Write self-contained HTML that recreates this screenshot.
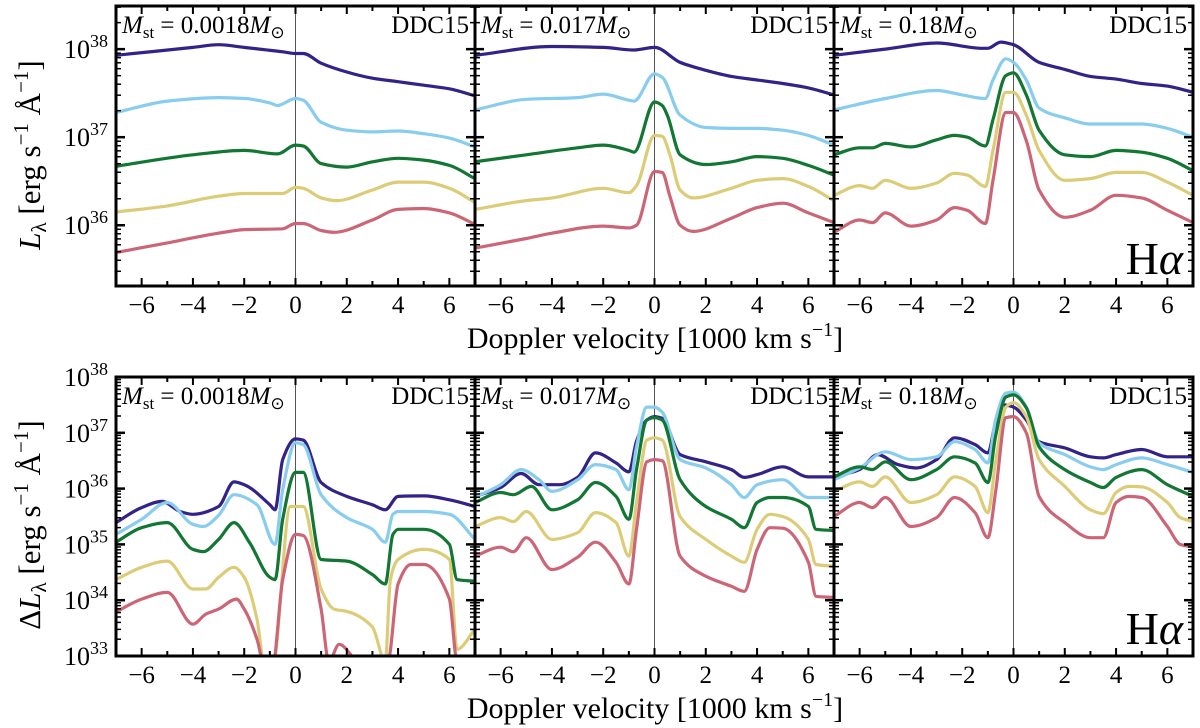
<!DOCTYPE html>
<html><head><meta charset="utf-8"><style>
html,body{margin:0;padding:0;background:#fff;}
svg{display:block;font-family:"Liberation Serif",serif;}
</style></head><body>
<svg id="chart" width="1200" height="728" viewBox="0 0 1200 728"></svg>
<script>
// ---------- data (x in 1000 km/s, y = log10 luminosity) ----------
const xTicks = [-6,-4,-2,0,2,4,6];
const topYTicks = [36,37,38];
const botYTicks = [33,34,35,36,37,38];
const panelMasses = ["0.0018","0.017","0.18"];
const seriesColors = ["#332288","#88ccee","#117733","#ddcc77","#cc6677"];

// top row panel 1
const t1_dark  = [[-7,37.93],[-4,38.02],[-3,38.05],[-2,38.02],[-0.5,37.97],[0,37.95],[0.3,37.95],[1,37.84],[2,37.74],[3,37.67],[4,37.63],[5,37.59],[6,37.55],[7,37.47]];
const t1_light = [[-7,37.28],[-5,37.41],[-3,37.45],[-2,37.44],[-1,37.39],[-0.7,37.36],[0,37.44],[0.3,37.42],[1,37.17],[2,37.08],[3,37.06],[4,37.07],[5,37.04],[6,36.99],[7,36.89]];
const t1_green = [[-7,36.67],[-4,36.80],[-2,36.85],[-0.7,36.81],[0,36.91],[0.3,36.90],[1,36.70],[2,36.66],[3,36.72],[4,36.76],[5,36.74],[6,36.68],[7,36.53]];
const t1_yell  = [[-7,36.15],[-5,36.22],[-3,36.33],[-2,36.36],[-0.5,36.36],[0,36.43],[0.3,36.42],[1,36.31],[1.6,36.28],[3,36.40],[4,36.49],[5,36.49],[6,36.42],[7,36.26]];
const t1_red   = [[-7,35.69],[-5,35.80],[-3,35.91],[-2,35.95],[-0.5,35.96],[0,36.02],[0.3,36.02],[1,35.94],[1.5,35.92],[3,36.06],[4,36.18],[5,36.19],[6,36.14],[7,36.01]];
// top row panel 2
const t2_dark  = [[-7,37.93],[-4,38.03],[-2,38.02],[-0.8,37.99],[-0.5,38.0],[0,38.02],[1,37.85],[2,37.76],[3,37.69],[4,37.65],[5,37.61],[6,37.56],[7,37.48]];
const t2_light = [[-7,37.31],[-5,37.43],[-3,37.45],[-2,37.49],[-1,37.42],[-0.8,37.41],[0,37.72],[0.3,37.68],[1,37.25],[2,37.11],[3,37.10],[4,37.10],[5,37.08],[6,37.02],[7,36.91]];
const t2_green = [[-7,36.72],[-5,36.80],[-3,36.88],[-2,36.91],[-1,36.85],[-0.8,36.83],[0,37.40],[0.3,37.36],[0.5,37.25],[1,36.80],[2,36.69],[3,36.72],[4,36.78],[5,36.76],[6,36.68],[7,36.57]];
const t2_yell  = [[-7,36.18],[-5,36.28],[-4,36.31],[-2,36.42],[-1,36.37],[-0.7,36.45],[0,37.02],[0.3,37.01],[0.6,36.80],[1,36.40],[1.5,36.31],[3,36.42],[4,36.51],[5,36.53],[6,36.44],[7,36.28]];
const t2_red   = [[-7,35.74],[-5,35.85],[-4,35.91],[-2,35.99],[-1,35.97],[-0.7,36.0],[0,36.61],[0.3,36.60],[0.6,36.33],[1,36.0],[1.5,35.93],[3,36.08],[4,36.20],[5,36.25],[6,36.14],[7,36.03]];
// top row panel 3
const t3_dark  = [[-7,37.93],[-5,38.0],[-3,38.07],[-1.2,38.01],[-1,38.01],[-0.5,38.08],[0,38.05],[1,37.85],[2,37.77],[3,37.69],[4,37.66],[5,37.61],[6,37.58],[7,37.51]];
const t3_light = [[-7,37.31],[-5,37.44],[-3,37.53],[-2,37.48],[-1.1,37.44],[-0.8,37.65],[-0.3,37.89],[0,37.85],[0.5,37.65],[1,37.33],[2,37.22],[3,37.15],[4,37.15],[5,37.15],[6,37.10],[7,37.0]];
const t3_green = [[-7,36.80],[-6,36.88],[-5.5,36.88],[-5,36.93],[-4,36.89],[-3,36.97],[-2.3,37.02],[-1.8,37.0],[-1.1,36.90],[-0.8,37.2],[-0.3,37.70],[0,37.73],[0.5,37.48],[1,37.08],[2,36.80],[3,36.78],[4,36.85],[5,36.83],[6,36.76],[7,36.62]];
const t3_yell  = [[-7,36.34],[-6,36.45],[-5.5,36.42],[-5,36.51],[-4,36.42],[-3,36.48],[-2.3,36.59],[-1.8,36.57],[-1.1,36.44],[-0.8,36.85],[-0.3,37.51],[0,37.51],[0.5,37.25],[1,36.85],[2,36.51],[3,36.53],[4,36.60],[5,36.60],[6,36.49],[7,36.34]];
const t3_red   = [[-7,35.92],[-6,36.06],[-5.5,36.03],[-5,36.14],[-4,35.99],[-3,36.06],[-2.3,36.20],[-1.8,36.17],[-1.1,36.02],[-0.8,36.51],[-0.3,37.28],[0,37.28],[0.5,36.96],[1,36.40],[2,36.09],[3,36.17],[4,36.34],[5,36.31],[6,36.17],[7,36.03]];

// bottom row panel 1
const b1_dark  = [[-7,35.39],[-6,35.66],[-5.2,35.77],[-4.5,35.59],[-4,35.54],[-3,35.68],[-2.4,36.12],[-2,36.07],[-1,35.71],[-0.8,35.62],[-0.5,36.52],[0,36.89],[0.3,36.87],[1,36.11],[2,35.86],[3,35.71],[3.5,35.62],[4,35.86],[5,35.87],[6,35.80],[7,35.68]];
const b1_light = [[-7,35.18],[-6,35.45],[-5,35.75],[-4,35.36],[-3.6,35.32],[-3,35.52],[-2.4,35.89],[-1.5,35.71],[-0.8,35.0],[-0.5,35.98],[0,36.82],[0.3,36.79],[1,35.89],[2,35.48],[3,35.27],[3.5,35.04],[3.8,35.54],[4,35.59],[5,35.59],[6,35.54],[7,35.09]];
const b1_green = [[-7,35.04],[-6,35.30],[-5,35.39],[-4,34.91],[-3.6,34.87],[-3,35.09],[-2.4,35.39],[-1.8,35.04],[-1,34.41],[-0.8,34.37],[-0.5,35.45],[0,36.29],[0.3,36.29],[1,34.73],[2,34.70],[3,34.46],[3.5,34.29],[3.8,35.18],[4,35.27],[5,35.27],[6,35.0],[6.3,34.37],[7,34.34]];
const b1_yell  = [[-7,34.37],[-6,34.59],[-5,34.70],[-4,34.20],[-3.5,34.20],[-3,34.41],[-2.4,34.59],[-2,34.41],[-1.5,33.66],[-1.2,32.8],[-0.9,32.8],[-0.2,35.68],[0.3,35.68],[1,34.20],[1.5,33.84],[2,33.80],[3,33.52],[3.5,32.9],[3.7,34.37],[4,34.73],[5,34.91],[6,34.73],[6.3,33.12],[7,33.48]];
const b1_red   = [[-7,33.79],[-6,34.02],[-5,34.14],[-4,33.57],[-3.5,33.75],[-3,33.84],[-2.3,34.02],[-2,33.84],[-1.5,33.30],[-1.2,32.8],[-0.9,32.8],[-0.5,34.37],[0,35.18],[0.3,35.16],[1,33.84],[1.3,32.9],[1.7,33.21],[2.5,32.9],[3.6,32.9],[4,34.29],[4.5,34.64],[5,34.64],[6,34.02],[6.3,32.9],[7,32.8]];
// bottom row panel 2
const b2_dark  = [[-7,35.86],[-6,36.02],[-5.2,36.27],[-4.5,36.07],[-3.7,36.07],[-3,36.20],[-2.3,36.64],[-1.5,36.46],[-1,36.30],[-0.7,36.85],[-0.3,37.23],[0,37.29],[0.3,37.26],[1,36.61],[2,36.48],[3,36.34],[3.5,36.20],[4,36.25],[5,36.39],[6,36.21],[7,36.21]];
const b2_light = [[-7,35.84],[-6,36.07],[-5.2,36.34],[-4.5,36.16],[-4,35.95],[-3,36.16],[-2.3,36.43],[-1.5,36.34],[-1,35.98],[-0.7,36.75],[-0.3,37.46],[0,37.46],[0.3,37.37],[1,36.52],[2,36.37],[3,36.07],[3.5,35.84],[4,36.07],[5,36.16],[6,35.84],[7,35.84]];
const b2_green = [[-7,35.75],[-6,35.93],[-5.5,35.89],[-4.8,36.04],[-4,35.62],[-3,35.80],[-2.3,36.11],[-1.5,35.86],[-1,35.45],[-0.7,36.34],[-0.3,37.23],[0,37.27],[0.3,37.23],[1,36.16],[2,35.68],[3,35.45],[3.5,35.30],[4,35.75],[4.5,35.84],[5,35.84],[6,35.68],[6.3,35.27],[7,35.25]];
const b2_yell  = [[-7,35.32],[-6,35.48],[-5.5,35.41],[-5,35.59],[-4,35.09],[-3,35.21],[-2.3,35.57],[-1.5,35.39],[-1,34.79],[-0.7,35.75],[-0.3,36.87],[0,36.91],[0.3,36.87],[1,35.5],[2,35.09],[3,34.79],[3.5,34.68],[4,35.27],[4.5,35.54],[5,35.5],[6,35.09],[6.3,34.64],[7,34.61]];
const b2_red   = [[-7,34.79],[-6,34.95],[-5.5,34.87],[-5,35.12],[-4,34.55],[-3,34.77],[-2.3,35.04],[-1.5,34.68],[-1,34.29],[-0.7,35.27],[-0.3,36.48],[0,36.52],[0.3,36.50],[1,34.79],[2,34.43],[3,34.25],[3.5,34.16],[4,34.91],[4.5,35.30],[5,35.29],[6,34.68],[6.3,34.07],[7,34.05]];
// bottom row panel 3
const b3_dark  = [[-7,36.21],[-6,36.34],[-5.3,36.61],[-4.5,36.43],[-3.8,36.37],[-3,36.52],[-2.3,36.91],[-1.5,36.79],[-1,36.64],[-0.7,37.18],[-0.4,37.5],[0,37.46],[0.5,37.23],[1,36.84],[2,36.73],[3,36.57],[3.5,36.55],[4,36.61],[5,36.70],[6,36.57],[7,36.57]];
const b3_light = [[-7,36.16],[-6,36.37],[-5,36.66],[-4,36.52],[-3,36.57],[-2.3,36.84],[-1.5,36.70],[-1,36.46],[-0.7,37.23],[-0.3,37.71],[0,37.73],[0.5,37.46],[1,36.82],[2,36.61],[3,36.39],[3.5,36.34],[4,36.43],[5,36.55],[6,36.43],[7,36.29]];
const b3_green = [[-7,36.21],[-6,36.39],[-5.5,36.34],[-5,36.48],[-4,36.16],[-3,36.34],[-2.3,36.57],[-1.5,36.46],[-1,36.11],[-0.7,36.93],[-0.3,37.64],[0,37.68],[0.5,37.45],[1,36.75],[2,36.34],[3,36.11],[3.5,36.02],[4,36.20],[5,36.34],[6,36.07],[7,35.86]];
const b3_yell  = [[-7,35.95],[-6,36.12],[-5.5,36.04],[-5,36.21],[-4,35.75],[-3,35.89],[-2.3,36.21],[-1.5,36.04],[-1,35.57],[-0.7,36.46],[-0.3,37.46],[0,37.54],[0.5,37.29],[1,36.52],[2,36.04],[3,35.62],[3.5,35.55],[4,35.93],[4.5,36.04],[5,36.03],[6,35.75],[6.5,35.48],[7,35.41]];
const b3_red   = [[-7,35.5],[-6,35.75],[-5.5,35.66],[-5,35.84],[-4,35.32],[-3,35.48],[-2.3,35.84],[-1.5,35.57],[-1,35.12],[-0.7,35.93],[-0.3,37.27],[0,37.29],[0.5,37.0],[1,35.86],[2,35.39],[3,35.12],[3.5,35.12],[4,35.75],[4.5,35.86],[5,35.84],[6,35.32],[6.5,35.0],[7,34.95]];

const topSeries = [[t1_dark,t1_light,t1_green,t1_yell,t1_red],[t2_dark,t2_light,t2_green,t2_yell,t2_red],[t3_dark,t3_light,t3_green,t3_yell,t3_red]];
const botSeries = [[b1_dark,b1_light,b1_green,b1_yell,b1_red],[b2_dark,b2_light,b2_green,b2_yell,b2_red],[b3_dark,b3_light,b3_green,b3_yell,b3_red]];
const seriesNames = ["dark-blue","light-blue","green","yellow","red"];

// ---------- drawing ----------
const NS = "http://www.w3.org/2000/svg";
const svg = document.getElementById("chart");
function mk(tag, attrs, parent){ const e=document.createElementNS(NS,tag); for(const k in attrs) e.setAttribute(k,attrs[k]); (parent||svg).appendChild(e); return e; }
function monotonePath(P){
  const n = P.length;
  const dx=[], m=[];
  for (let i=0;i<n-1;i++){ dx[i]=P[i+1][0]-P[i][0]; m[i]=(P[i+1][1]-P[i][1])/dx[i]; }
  const t=[];
  t[0]=m[0]; t[n-1]=m[n-2];
  for (let i=1;i<n-1;i++){
    if (m[i-1]*m[i]<=0) t[i]=0;
    else { const w1=2*dx[i]+dx[i-1], w2=dx[i]+2*dx[i-1]; t[i]=(w1+w2)/(w1/m[i-1]+w2/m[i]); }
  }
  let d=`M${P[0][0].toFixed(1)},${P[0][1].toFixed(1)}`;
  for (let i=0;i<n-1;i++){
    const h=dx[i]/3;
    d+=` C${(P[i][0]+h).toFixed(1)},${(P[i][1]+t[i]*h).toFixed(1)} ${(P[i+1][0]-h).toFixed(1)},${(P[i+1][1]-t[i+1]*h).toFixed(1)} ${P[i+1][0].toFixed(1)},${P[i+1][1].toFixed(1)}`;
  }
  return d;
}

const panelX = [116,475,834];
const panelW = 359;
const rows = [
  {top:6, bottom:286, ymin:35.31, ymax:38.49, ticks:topYTicks, series:topSeries, name:"top", labelY:313, xlabY:348},
  {top:377, bottom:656, ymin:33, ymax:38, ticks:botYTicks, series:botSeries, name:"bottom", labelY:683, xlabY:718}
];
const defs = mk("defs",{});

rows.forEach((row, ri) => {
  const yScale = v => row.bottom - (v-row.ymin)/(row.ymax-row.ymin)*(row.bottom-row.top);
  for (let p=0;p<3;p++){
    const x0 = panelX[p];
    const xScale = v => x0 + (v+7)/14*panelW;
    const g = mk("g",{});
    
    
    const cid = `clip-${ri}-${p}`;
    const cp = mk("clipPath",{id:cid},defs);
    mk("rect",{x:x0,y:row.top,width:panelW,height:row.bottom-row.top},cp);
    const zl = mk("line",{x1:xScale(0),x2:xScale(0),y1:row.top,y2:row.bottom,stroke:"#555","stroke-width":1},g);
    
    
    const sg = mk("g",{"clip-path":`url(#${cid})`},g);
    row.series[p].forEach((s,si) => {
      const P = s.map(d => [xScale(d[0]), yScale(d[1])]);
      const pl = mk("path",{d:monotonePath(P),fill:"none",stroke:seriesColors[si],"stroke-width":3.2,"stroke-linejoin":"round","stroke-linecap":"round"},sg);
      
      
    });
    for (let v=-7; v<=7; v++){
      const major = v%2===0;
      const len = major?8:5;
      const X = xScale(v);
      mk("line",{x1:X,x2:X,y1:row.bottom,y2:row.bottom-len,stroke:"#000","stroke-width":2},g);
      mk("line",{x1:X,x2:X,y1:row.top,y2:row.top+len,stroke:"#000","stroke-width":2},g);
    }
    xTicks.forEach(v => {
      const t = mk("text",{x:xScale(v),y:row.labelY,"text-anchor":"middle","font-size":25},g);
      t.textContent = v<0 ? "\u2212"+Math.abs(v) : String(v);
      
      
    });
    for (let d=Math.floor(row.ymin); d<=Math.ceil(row.ymax); d++){
      for (let m=1; m<10; m++){
        const v = d + Math.log10(m);
        if (v<row.ymin-1e-6 || v>row.ymax+1e-6) continue;
        const Y = yScale(v);
        const len = m===1?9:5;
        mk("line",{x1:x0,x2:x0+len,y1:Y,y2:Y,stroke:"#000","stroke-width":m===1?2.5:1.5},g);
        mk("line",{x1:x0+panelW,x2:x0+panelW-len,y1:Y,y2:Y,stroke:"#000","stroke-width":m===1?2.5:1.5},g);
      }
    }
    mk("rect",{x:x0,y:row.top,width:panelW,height:row.bottom-row.top,fill:"none",stroke:"#000","stroke-width":3},g);
    const mt = mk("text",{x:x0+6,y:row.top+27,"font-size":25},g);
    
    
    mt.innerHTML = `<tspan font-style="italic">M</tspan><tspan font-size="17" dy="5">st</tspan><tspan dy="-5"> = ${panelMasses[p]}</tspan><tspan font-style="italic">M</tspan><tspan font-size="17" dy="5">\u2299</tspan>`;
    const dt = mk("text",{x:x0+panelW-6,y:row.top+27,"font-size":25,"text-anchor":"end"},g);
    dt.textContent = "DDC15";
    
    
    if (p===2){
      const ha = mk("text",{x:x0+panelW-10,y:row.bottom-12,"font-size":46,"text-anchor":"end"},g);
      ha.innerHTML = 'H<tspan font-style="italic">\u03b1</tspan>';
      
      
    }
  }
  row.ticks.forEach(v => {
    const t = mk("text",{x:108,y:yScale(v)+9,"text-anchor":"end","font-size":26});
    t.innerHTML = `10<tspan font-size="18" dy="-11">${v}</tspan>`;
    
    
  });
  const xt = mk("text",{x:655,y:row.xlabY,"text-anchor":"middle","font-size":30});
  xt.innerHTML = 'Doppler velocity [1000 km s<tspan font-size="20" dy="-12">\u22121</tspan><tspan dy="12">]</tspan>';
  
  
  const cy = ri===0 ? 155 : 525;
  const yt = mk("text",{x:0,y:0,"text-anchor":"middle","font-size":31,transform:`translate(40,${cy}) rotate(-90)`});
  yt.innerHTML = (ri===0?'':'\u0394')+'<tspan font-style="italic">L</tspan><tspan font-size="21" dy="6">\u03bb</tspan><tspan dy="-6"> [erg s</tspan><tspan font-size="21" dy="-12">\u22121</tspan><tspan dy="12"> \u00c5</tspan><tspan font-size="21" dy="-12">\u22121</tspan><tspan dy="12">]</tspan>';
  
  
});
</script>
</body></html>
